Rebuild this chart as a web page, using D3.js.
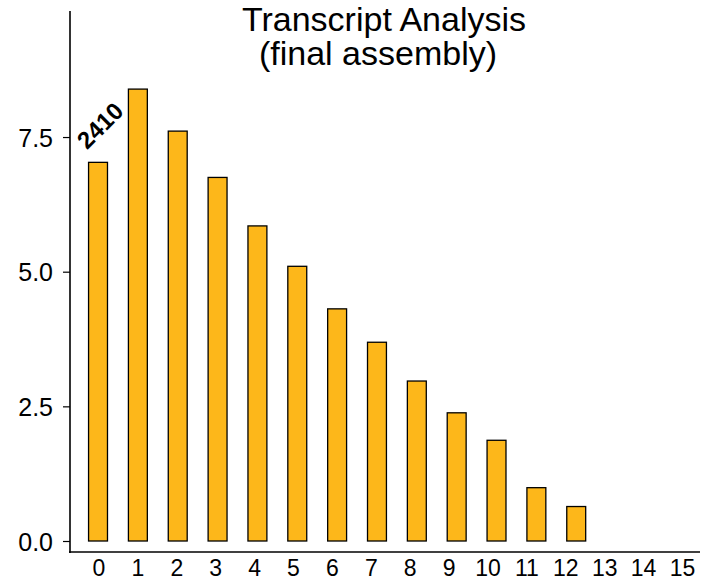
<!DOCTYPE html>
<html>
<head>
<meta charset="utf-8">
<script src="https://cdn.jsdelivr.net/npm/d3@7/dist/d3.min.js"></script>
<style>
html,body{margin:0;padding:0;background:#fff;}
svg{display:block;font-family:"Liberation Sans",Arial,sans-serif;}
</style>
</head>
<body>
<svg id="chart" width="714" height="580"></svg>
<script>
const categories = ["0","1","2","3","4","5","6","7","8","9","10","11","12","13","14","15"];
const barCategories = ["0","1","2","3","4","5","6","7","8","9","10","11","12"];
const values = [7.03, 8.39, 7.61, 6.75, 5.85, 5.10, 4.31, 3.69, 2.97, 2.38, 1.87, 0.99, 0.64];
const yTicks = [0, 2.5, 5.0, 7.5];
const titleLines = ["Transcript Analysis", "(final assembly)"];
const annotation = {category: "0", text: "2410"};

const svg = d3.select("#chart");
const FONT = "Liberation Sans, Arial, sans-serif";

const y = d3.scaleLinear().domain([0, 9.84]).range([541, 11]);
const xBar = d3.scaleBand().domain(categories).range([78.1, 715.7]).paddingInner(0.5).paddingOuter(0.25);
const xLab = d3.scalePoint().domain(categories).range([98.5, 682]);

// bars
svg.append("g").selectAll("rect")
  .data(barCategories.map((c, i) => ({c, v: values[i]})))
  .join("rect")
  .attr("x", d => xBar(d.c) + 0.5)
  .attr("width", xBar.bandwidth() - 1)
  .attr("y", d => y(d.v))
  .attr("height", d => y(0) - y(d.v))
  .attr("fill", "#FDB71A")
  .attr("stroke", "#000")
  .attr("stroke-width", 1.3);

// y axis
const yAxis = d3.axisLeft(y).tickValues(yTicks).tickFormat(d3.format(".1f")).tickSize(7).tickPadding(10);
const gy = svg.append("g").attr("transform", "translate(70,0)").call(yAxis);
gy.select(".domain").remove();
gy.append("line").attr("x1", 0).attr("x2", 0).attr("y1", 11).attr("y2", 553)
  .attr("stroke", "#000").attr("stroke-width", 1.6);
gy.selectAll(".tick line").attr("stroke", "#000").attr("stroke-width", 1.2);
gy.selectAll(".tick text").attr("fill", "#000").style("font-size", "25px")
  .style("font-family", FONT).attr("dy", "0.36em");

// x axis
svg.append("line").attr("x1", 69).attr("x2", 700).attr("y1", 552).attr("y2", 552)
  .attr("stroke", "#000").attr("stroke-width", 1.6);
const xAxis = d3.axisBottom(xLab).tickSize(0).tickPadding(0);
const gx = svg.append("g").attr("transform", "translate(0,576)").call(xAxis);
gx.select(".domain").remove();
gx.selectAll(".tick text").attr("fill", "#000").style("font-size", "23px")
  .style("font-family", FONT).attr("y", 0).attr("dy", null);

// annotation
const ax = xBar(annotation.category) - 1;
const ay = y(values[barCategories.indexOf(annotation.category)]) - 12;
svg.append("text")
  .attr("transform", `translate(${ax},${ay}) rotate(-45)`)
  .attr("font-weight", "bold")
  .style("font-size", "24px")
  .style("font-family", FONT)
  .attr("fill", "#000")
  .text(annotation.text);

// title
svg.append("g").selectAll("text").data(titleLines).join("text")
  .attr("x", (d, i) => i === 0 ? 384 : 378)
  .attr("y", (d, i) => 31 + i * 34)
  .attr("text-anchor", "middle")
  .style("font-size", "34px")
  .style("font-family", FONT)
  .attr("fill", "#000")
  .text(d => d);
</script>
</body>
</html>
